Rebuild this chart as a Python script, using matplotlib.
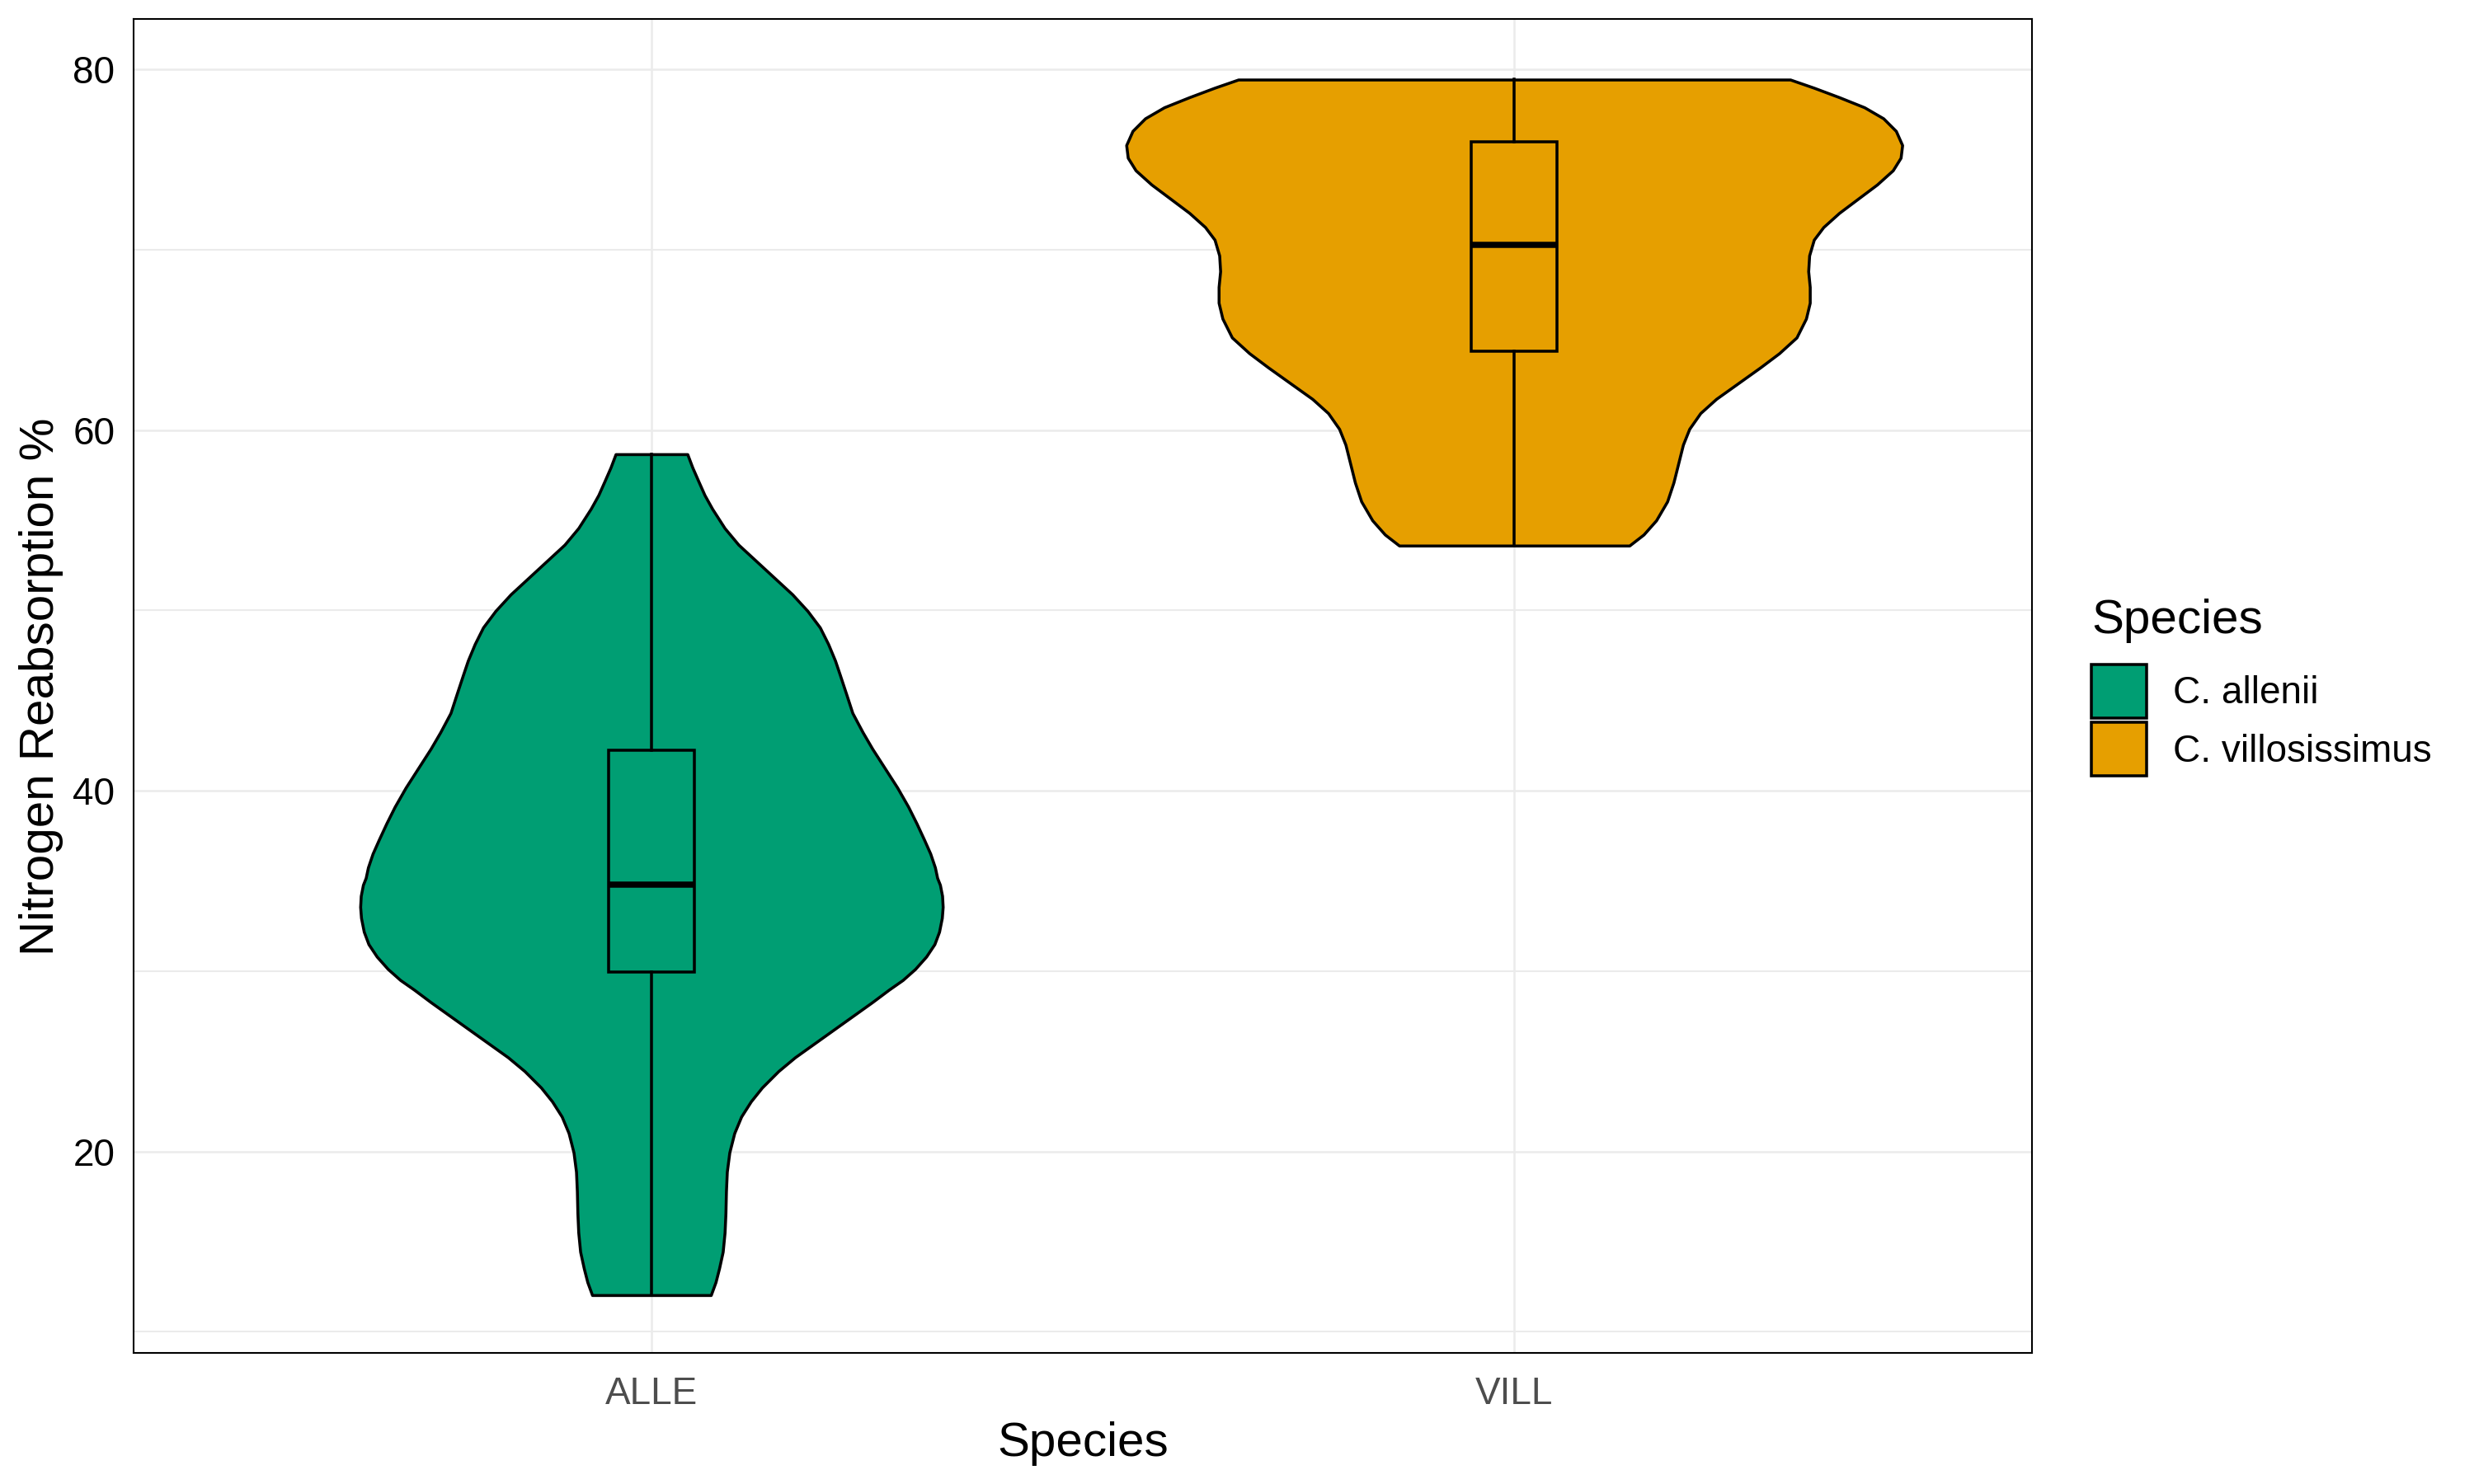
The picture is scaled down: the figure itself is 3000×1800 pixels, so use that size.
import matplotlib
matplotlib.use("Agg")
import matplotlib.pyplot as plt
from matplotlib.patches import Patch
from matplotlib.ticker import MultipleLocator

plt.rcParams['font.family'] = ['Liberation Sans', 'DejaVu Sans']

# categories and legend names
categories = ["ALLE", "VILL"]
species = ["C. allenii", "C. villosissimus"]
fill_colors = ["#009E73", "#E69F00"]

# violin outlines: y value and half width (in category units)
alle_y = [58.669, 57.935, 57.170, 56.405, 55.640, 54.568, 53.650, 52.732, 51.814, 50.896,
          49.978, 49.060, 48.142, 47.223, 46.458, 45.387, 44.316, 43.245, 42.327, 41.256,
          40.184, 39.113, 38.195, 37.277, 36.512, 35.747, 35.165, 34.781, 34.169, 33.557,
          32.945, 32.180, 31.491, 30.802, 30.114, 29.502, 28.966, 28.278, 27.512, 26.747,
          25.982, 25.217, 24.452, 23.534, 22.769, 21.927, 21.009, 19.938, 18.867, 17.796,
          16.572, 15.500, 14.429, 13.511, 12.746, 12.026]
alle_w = [0.0416, 0.0474, 0.0544, 0.0615, 0.0704, 0.0848, 0.1008, 0.1216, 0.1424, 0.1632,
          0.1808, 0.1952, 0.2048, 0.2128, 0.2182, 0.2256, 0.2329, 0.2448, 0.2560, 0.2704,
          0.2848, 0.2976, 0.3072, 0.3161, 0.3232, 0.3286, 0.3312, 0.3344, 0.3369, 0.3376,
          0.3366, 0.3334, 0.3280, 0.3184, 0.3056, 0.2912, 0.2752, 0.2560, 0.2336, 0.2112,
          0.1888, 0.1664, 0.1472, 0.1280, 0.1152, 0.1040, 0.0960, 0.0903, 0.0874, 0.0864,
          0.0858, 0.0848, 0.0826, 0.0784, 0.0743, 0.0688]

vill_y = [79.448, 78.994, 78.469, 77.909, 77.297, 76.598, 75.811, 75.111, 74.412, 73.625,
          72.837, 72.050, 71.264, 70.564, 69.689, 68.815, 67.940, 67.066, 66.191, 65.142,
          64.268, 63.481, 62.606, 61.732, 60.945, 60.071, 59.196, 58.147, 57.097, 56.048,
          55.000, 54.211, 53.599]
vill_w = [0.3199, 0.3473, 0.3766, 0.4058, 0.4278, 0.4424, 0.4497, 0.4479, 0.4388, 0.4205,
          0.3985, 0.3766, 0.3583, 0.3473, 0.3419, 0.3408, 0.3426, 0.3426, 0.3382, 0.3272,
          0.3071, 0.2852, 0.2596, 0.2340, 0.2157, 0.2029, 0.1956, 0.1901, 0.1846, 0.1773,
          0.1645, 0.1499, 0.1334]

# box summaries per species
q1 = [29.93, 64.39]
med = [34.78, 70.27]
q3 = [42.25, 75.99]
lo = [12.03, 53.60]
hi = [58.67, 79.45]

fig = plt.figure(figsize=(10, 6), dpi=300)
ax = fig.add_axes([0.0541, 0.0881, 0.7672, 0.8990])

profiles = [(alle_y, alle_w), (vill_y, vill_w)]
for i, (ys, ws) in enumerate(profiles):
    pos = i + 1
    left = [pos - w for w in ws]
    right = [pos + w for w in ws]
    ax.fill_betweenx(ys, left, right, facecolor=fill_colors[i], edgecolor="black",
                     linewidth=0.85, joinstyle="round", zorder=2)

stats = []
for i in range(len(categories)):
    stats.append(dict(med=med[i], q1=q1[i], q3=q3[i], whislo=lo[i], whishi=hi[i], fliers=[]))

bp = ax.bxp(stats, positions=[1, 2], widths=0.1, patch_artist=True, showcaps=False,
            showfliers=False,
            boxprops=dict(edgecolor="black", linewidth=0.85),
            whiskerprops=dict(color="black", linewidth=0.85),
            medianprops=dict(color="black", linewidth=1.8, solid_capstyle="butt"),
            zorder=3)
for patch, c in zip(bp["boxes"], fill_colors):
    patch.set_facecolor(c)

ax.set_xlim(0.4, 2.6)
ax.set_ylim(8.8, 82.8)
ax.set_xticks([1, 2])
ax.set_xticklabels(categories)
ax.yaxis.set_major_locator(MultipleLocator(20))
ax.yaxis.set_minor_locator(MultipleLocator(10))

ax.set_axisbelow(True)
ax.grid(which="major", color="#EBEBEB", linewidth=0.6)
ax.grid(which="minor", axis="y", color="#EBEBEB", linewidth=0.5)
ax.tick_params(which="both", length=0)
ax.tick_params(axis="y", labelsize=11, labelcolor="black", pad=5.5)
ax.tick_params(axis="x", labelsize=11, labelcolor="#4D4D4D", pad=6.5)
for s in ax.spines.values():
    s.set_color("black")
    s.set_linewidth(0.5)

ax.set_xlabel("Species", fontsize=14, labelpad=2.7)
ax.set_ylabel("Nitrogen Reabsorption %", fontsize=14, labelpad=2.8)

# legend: title placed as text, keys below it
fig.text(0.8453, 0.5733, "Species", fontsize=14, ha="left", va="baseline")
handles = [Patch(facecolor=c, edgecolor="black", linewidth=0.85) for c in fill_colors]
leg = fig.legend(handles, species, loc="upper left", bbox_to_anchor=(0.8453, 0.5522),
                 frameon=False, fontsize=11, handlelength=1.46, handleheight=1.8,
                 labelspacing=0.12, handletextpad=0.7, borderpad=0, borderaxespad=0)

fig.savefig("out.png", dpi=300)
